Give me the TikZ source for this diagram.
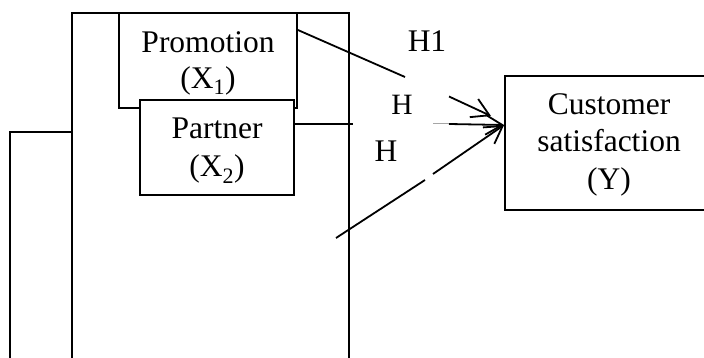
\documentclass[tikz,border=0pt]{standalone}
\usepackage{fontspec}
\setmainfont{Liberation Serif}
\usetikzlibrary{arrows.meta}

\tikzset{
  boxline/.style={draw=black, line width=1.8pt},
  varbox/.style={boxline, fill=white, inner sep=0pt},
  lbl/.style={inner sep=0pt, anchor=base, font=\fontsize{31.5}{37}\selectfont},
  small lbl/.style={lbl, font=\fontsize{29.5}{34}\selectfont},
  link/.style={draw=black, line width=1.8pt},
  arrowlink/.style={link, -{Straight Barb[length=17pt, width=20pt, line width=1.8pt]}},
}

\begin{document}
\begin{tikzpicture}[x=1pt, y=-1pt]
  \clip (0,0) rectangle (704,358);
  \fill[white] (0,0) rectangle (704,358);

  % outer frame and side bracket
  \draw[boxline] (72,362) -- (72,13) -- (349,13) -- (349,362);
  \draw[boxline] (10,362) -- (10,132) -- (72,132);

  % variable boxes
  \node[varbox, minimum width=178pt, minimum height=95pt] (promo) at (208,60.5) {};
  \node[varbox, minimum width=154pt, minimum height=95pt] (partner) at (217,147.5) {};
  \node[varbox, minimum width=208pt, minimum height=134pt] (cust) at (609,143) {};

  % box texts
  \node[lbl] (promoA) at (208,53) {Promotion};
  \node[lbl] (promoB) at (208,89) {(X\textsubscript{1})};
  \node[lbl] (partA) at (217,139) {Partner};
  \node[lbl] (partB) at (217,177) {(X\textsubscript{2})};
  \node[lbl] (custA) at (609,115) {Customer};
  \node[lbl] (custB) at (609,152) {satisfaction};
  \node[lbl] (custC) at (609,190) {(Y)};

  % hypothesis labels
  \node[lbl] (h1) at (427,52) {H1};
  \node[small lbl] (h2) at (402,115) {H};
  \node[lbl] (h3) at (386,162) {H};

  % reference points for the connectors
  \coordinate (r30) at (0,30);
  \coordinate (r124) at (0,124);
  \coordinate (r125) at (0,125);
  \coordinate (g1a) at (405,77);
  \coordinate (g1b) at (449,96.5);
  \coordinate (t1) at (491,116);
  \coordinate (g2a) at (353,124);
  \coordinate (g2b) at (433,124);
  \coordinate (g2c) at (449,124);
  \coordinate (s3) at (336,238);
  \coordinate (g3a) at (425,180);
  \coordinate (g3b) at (433,174);

  % H1: Promotion -> Customer satisfaction
  \draw[link] (promo.east |- r30) -- (g1a);
  \draw[arrowlink] (g1b) -- (t1);

  % H2: Partner -> Customer satisfaction
  \draw[link] (partner.east |- r124) -- (g2a);
  \draw[draw=black!35, line width=1pt] (g2b) -- (g2c);
  \draw[arrowlink] (g2c) -- (cust.west |- r125);

  % H3
  \draw[link] (s3) -- (g3a);
  \draw[arrowlink] (g3b) -- (cust.west |- r125);
\end{tikzpicture}
\end{document}
